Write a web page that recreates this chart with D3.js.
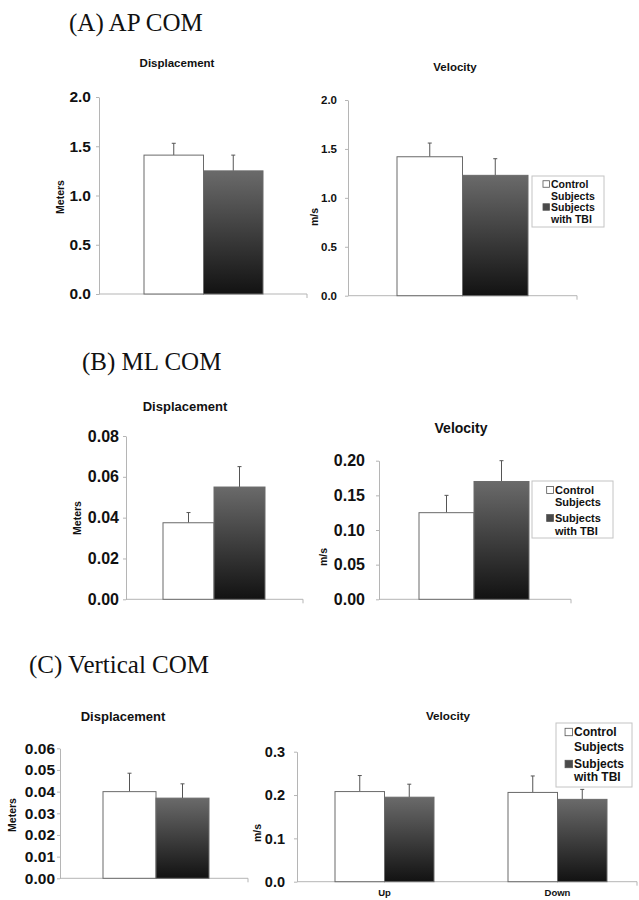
<!DOCTYPE html>
<html><head><meta charset="utf-8">
<script src="https://cdn.jsdelivr.net/npm/d3@7"></script>
<style>
html,body{margin:0;padding:0;background:#fff;}
svg{display:block;}
</style></head>
<body>
<svg id="chart" width="639" height="900"></svg>
<script>
// ---------------- DATA ----------------
const groups = ["Control Subjects", "Subjects with TBI"];
const legendLines = [["Control", "Subjects"], ["Subjects", "with TBI"]];

const apDispMean = [1.41, 1.25];
const apDispSD   = [0.12, 0.16];
const apVelMean  = [1.42, 1.23];
const apVelSD    = [0.14, 0.17];
const apTicks    = [0, 0.5, 1.0, 1.5, 2.0];

const mlDispMean = [0.0375, 0.055];
const mlDispSD   = [0.005, 0.010];
const mlDispTicks = [0, 0.02, 0.04, 0.06, 0.08];
const mlVelMean  = [0.125, 0.170];
const mlVelSD    = [0.025, 0.030];
const mlVelTicks = [0, 0.05, 0.10, 0.15, 0.20];

const vDispMean  = [0.040, 0.037];
const vDispSD    = [0.0085, 0.0066];
const vDispTicks = [0, 0.01, 0.02, 0.03, 0.04, 0.05, 0.06];
const vVelCategories = ["Up", "Down"];
const vVelControl   = [0.208, 0.206];
const vVelControlSD = [0.037, 0.038];
const vVelTBI       = [0.195, 0.190];
const vVelTBISD     = [0.030, 0.023];
const vVelTicks  = [0, 0.1, 0.2, 0.3];

const sectionTitles = ["(A) AP COM", "(B) ML COM", "(C) Vertical COM"];

// ---------------- DRAW ----------------
const svg = d3.select("#chart");
const SANS = "'Liberation Sans', Arial, sans-serif";
const SERIF = "'Liberation Serif', 'Times New Roman', serif";

const defs = svg.append("defs");
const grad = defs.append("linearGradient").attr("id", "tbiGrad")
  .attr("x1", 0).attr("y1", 0).attr("x2", 0).attr("y2", 1);
grad.append("stop").attr("offset", "0%").attr("stop-color", "#6a6a6a");
grad.append("stop").attr("offset", "100%").attr("stop-color", "#121212");

function fills(i) { return i === 0 ? "#ffffff" : "url(#tbiGrad)"; }

// section titles
const secPos = [[69, 31], [82, 370], [29, 673]];
sectionTitles.forEach((t, i) => {
  svg.append("text").attr("x", secPos[i][0]).attr("y", secPos[i][1])
    .attr("font-family", SERIF).attr("font-size", 25).attr("fill", "#111").text(t);
});

function panel(cfg) {
  const g = svg.append("g");
  const y = d3.scaleLinear().domain([0, cfg.max]).range([cfg.y0, cfg.yTop]);
  const axis = d3.axisLeft(y).tickValues(cfg.ticks).tickFormat(d3.format(cfg.fmt))
    .tickSize(3).tickPadding(cfg.gap).tickSizeOuter(0);
  const ag = g.append("g").attr("transform", `translate(${cfg.axisX},0)`).call(axis);
  ag.select(".domain").attr("stroke", "#b5b5b5");
  ag.selectAll(".tick line").attr("stroke", "#b5b5b5");
  ag.selectAll(".tick text").attr("font-family", SANS).attr("font-weight", "bold")
    .attr("font-size", cfg.tickFont).attr("fill", "#111");
  g.append("line").attr("x1", cfg.axisX).attr("x2", cfg.xEnd)
    .attr("y1", cfg.y0).attr("y2", cfg.y0).attr("stroke", "#b5b5b5");
  g.append("line").attr("x1", cfg.xEnd).attr("x2", cfg.xEnd)
    .attr("y1", cfg.y0).attr("y2", cfg.y0 + 4).attr("stroke", "#b5b5b5");

  const xc = d3.scaleBand().domain(cfg.categories).range(cfg.catRange)
    .paddingInner(cfg.padInner || 0).paddingOuter(cfg.padOuter || 0);
  const xg = d3.scaleBand().domain(groups).range([0, xc.bandwidth()]);
  cfg.categories.forEach((c, ci) => {
    groups.forEach((gr, gi) => {
      const v = cfg.means[gi][ci], sd = cfg.sds[gi][ci];
      const x0 = xc(c) + xg(gr);
      const cx = x0 + xg.bandwidth() / 2;
      g.append("line").attr("x1", cx).attr("x2", cx)
        .attr("y1", y(v)).attr("y2", y(v + sd)).attr("stroke", "#555").attr("stroke-width", 1);
      g.append("line").attr("x1", cx - 2).attr("x2", cx + 2)
        .attr("y1", y(v + sd)).attr("y2", y(v + sd)).attr("stroke", "#555").attr("stroke-width", 1);
      g.append("rect").attr("x", x0).attr("y", y(v))
        .attr("width", xg.bandwidth()).attr("height", y(0) - y(v))
        .attr("fill", fills(gi)).attr("stroke", "#6a6a6a").attr("stroke-width", 1);
    });
    if (cfg.showCats) {
      g.append("text").attr("x", xc(c) + xc.bandwidth() / 2).attr("y", cfg.catY)
        .attr("text-anchor", "middle").attr("font-family", SANS).attr("font-weight", "bold")
        .attr("font-size", 9.5).attr("fill", "#111").text(c);
    }
  });

  g.append("text").attr("x", cfg.titleX).attr("y", cfg.titleY).attr("text-anchor", "middle")
    .attr("font-family", SANS).attr("font-weight", "bold").attr("font-size", cfg.titleFont)
    .attr("fill", "#111").text(cfg.title);
  g.append("text").attr("transform", `translate(${cfg.labX},${cfg.labY}) rotate(-90)`)
    .attr("text-anchor", "middle").attr("dy", "0.35em")
    .attr("font-family", SANS).attr("font-weight", "bold").attr("font-size", 10.5)
    .attr("fill", "#111").text(cfg.ylab);

  if (cfg.legend) {
    const L = cfg.legend;
    g.append("rect").attr("x", L.x).attr("y", L.y).attr("width", L.w).attr("height", L.h)
      .attr("fill", "#fff").attr("stroke", "#c4c4c4");
    legendLines.forEach((lines, i) => {
      const yy1 = L.lines[i * 2], yy2 = L.lines[i * 2 + 1];
      const s = L.font * 0.62;
      g.append("rect").attr("x", L.tx - s - 1.5).attr("y", yy1 - s / 2)
        .attr("width", s).attr("height", s)
        .attr("fill", i === 0 ? "#fff" : "#4a4a4a").attr("stroke", "#555").attr("stroke-width", 0.8);
      [yy1, yy2].forEach((yy, k) => {
        g.append("text").attr("x", L.tx).attr("y", yy).attr("dy", "0.35em")
          .attr("font-family", SANS).attr("font-weight", "bold").attr("font-size", L.font)
          .attr("fill", "#111").text(lines[k]);
      });
    });
  }
}

panel({ max: 2.0, y0: 294, yTop: 97, axisX: 99, xEnd: 307, ticks: apTicks, fmt: ".1f",
  gap: 5, tickFont: 15.5, categories: ["AP"], catRange: [144, 263],
  means: [[apDispMean[0]], [apDispMean[1]]], sds: [[apDispSD[0]], [apDispSD[1]]],
  title: "Displacement", titleX: 177, titleY: 67, titleFont: 11.5, ylab: "Meters", labX: 60, labY: 197 });
panel({ max: 2.0, y0: 295.7, yTop: 100, axisX: 348, xEnd: 577, ticks: apTicks, fmt: ".1f",
  gap: 8, tickFont: 11.5, categories: ["AP"], catRange: [397, 528],
  means: [[apVelMean[0]], [apVelMean[1]]], sds: [[apVelSD[0]], [apVelSD[1]]],
  title: "Velocity", titleX: 455, titleY: 71, titleFont: 11.5, ylab: "m/s", labX: 314, labY: 217,
  legend: { x: 532, y: 176, w: 72, h: 51, tx: 551, font: 10.5, lines: [184, 196, 207, 219] } });
panel({ max: 0.08, y0: 599.3, yTop: 436, axisX: 126, xEnd: 303, ticks: mlDispTicks, fmt: ".2f",
  gap: 4, tickFont: 16, categories: ["ML"], catRange: [163, 265],
  means: [[mlDispMean[0]], [mlDispMean[1]]], sds: [[mlDispSD[0]], [mlDispSD[1]]],
  title: "Displacement", titleX: 185, titleY: 411, titleFont: 13, ylab: "Meters", labX: 77, labY: 518 });
panel({ max: 0.20, y0: 599.3, yTop: 460.7, axisX: 379, xEnd: 571, ticks: mlVelTicks, fmt: ".2f",
  gap: 11, tickFont: 16, categories: ["ML"], catRange: [419, 529],
  means: [[mlVelMean[0]], [mlVelMean[1]]], sds: [[mlVelSD[0]], [mlVelSD[1]]],
  title: "Velocity", titleX: 461, titleY: 433, titleFont: 14, ylab: "m/s", labX: 323, labY: 557,
  legend: { x: 532, y: 481, w: 81, h: 57, tx: 555, font: 11, lines: [490, 502, 518, 531] } });
panel({ max: 0.06, y0: 878.3, yTop: 748.3, axisX: 60, xEnd: 248, ticks: vDispTicks, fmt: ".2f",
  gap: 2, tickFont: 15.5, categories: ["V"], catRange: [103, 209],
  means: [[vDispMean[0]], [vDispMean[1]]], sds: [[vDispSD[0]], [vDispSD[1]]],
  title: "Displacement", titleX: 123, titleY: 721, titleFont: 13, ylab: "Meters", labX: 12, labY: 815 });
panel({ max: 0.3, y0: 881.7, yTop: 751.7, axisX: 297, xEnd: 637, ticks: vVelTicks, fmt: ".1f",
  gap: 9, tickFont: 14.5, categories: vVelCategories, catRange: [297, 645],
  padInner: 74 / 173, padOuter: 38 / 173,
  means: [vVelControl, vVelTBI], sds: [vVelControlSD, vVelTBISD],
  showCats: true, catY: 896,
  title: "Velocity", titleX: 448, titleY: 720, titleFont: 11.7, ylab: "m/s", labX: 257, labY: 833,
  legend: { x: 556, y: 723, w: 76, h: 64, tx: 574, font: 12, lines: [732, 747, 764, 777] } });
</script>
</body></html>
